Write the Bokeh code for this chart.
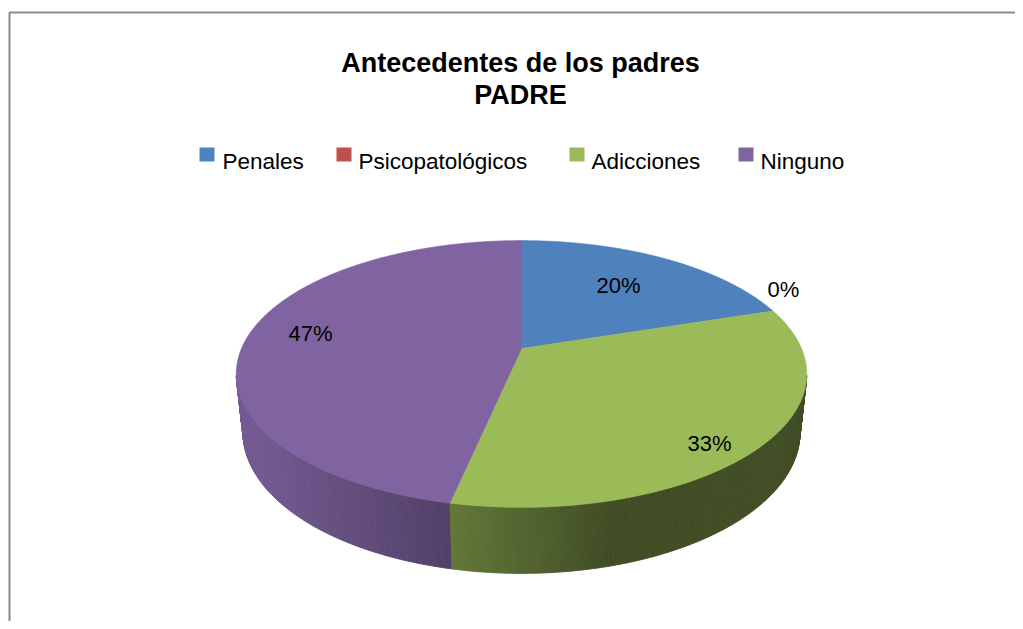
import numpy as np
from bokeh.plotting import figure
from bokeh.models import Range1d
from bokeh.core.properties import value
from bokeh.embed import file_html
from bokeh.resources import INLINE

# ---------------- data ----------------
categories = ["Penales", "Psicopatológicos", "Adicciones", "Ninguno"]
counts = [3, 0, 5, 7]
pct_labels = ["20%", "0%", "33%", "47%"]
title_lines = ["Antecedentes de los padres", "PADRE"]

# ---------------- styles / layout ----------------
colors = ["#4F81BD", "#C0504D", "#9BBB59", "#8064A2"]
FONT = "Liberation Sans"
W, H = 1015, 621
X0, Y0 = 0, 0                      # data coords equal picture pixels
CX, CY = 521.0, 348.0              # projected pie centre
SCALE = 280.0
SIN_A, COS_A = 0.459, 0.888        # view elevation
DIST = COS_A / 0.191               # perspective distance
DEPTH = 0.236                      # pie thickness (relative to radius)
LIGHT = np.deg2rad(255.0)

legend_square_x = [199, 336, 569, 738]
legend_text_x = [222, 358, 591, 760]
legend_y = 154
label_pos = [(618, 285), (783, 289), (709, 443), (310, 333)]  # (centre x, baseline)


def proj(phi, r=1.0, w=0.0):
    u = r * np.sin(phi)
    v = r * np.cos(phi)
    Y = v * SIN_A + w * COS_A
    Z = v * COS_A - w * SIN_A
    f = 1.0 / (1.0 + Z / DIST)
    return CX + SCALE * u * f, CY - SCALE * Y * f


def shade(hex_color, k):
    h = hex_color.lstrip("#")
    rgb = [int(h[i:i + 2], 16) for i in (0, 2, 4)]
    return "#%02x%02x%02x" % tuple(max(0, min(255, int(round(c * k)))) for c in rgb)


p = figure(width=W, height=H, x_range=Range1d(X0, X0 + W), y_range=Range1d(Y0 + H, Y0),
           output_backend="svg", toolbar_location=None, min_border=0)
p.axis.visible = False
p.grid.visible = False
p.outline_line_color = None
p.background_fill_color = "white"
p.border_fill_color = "white"

# chart-area border (top and left visible)
p.line(x=[9, 9, X0 + W + 20], y=[Y0 + H + 20, 12, 12], line_color="#8a8a8a", line_width=2)

total = float(sum(counts))
bounds = np.concatenate([[0.0], np.cumsum(counts) / total]) * 2 * np.pi

# ---------- sides (front facing part), with gradient shading ----------
side_xs, side_ys, side_cols, side_depth = [], [], [], []
for i, c in enumerate(counts):
    if c == 0:
        continue
    a0, a1 = bounds[i], bounds[i + 1]
    n = max(2, int((a1 - a0) / (2 * np.pi) * 720))
    grid = np.linspace(a0, a1, n + 1)
    for j in range(n):
        t0, t1 = grid[j], grid[j + 1]
        tm = 0.5 * (t0 + t1)
        if np.cos(tm) > -0.2:
            continue
        xa, ya = proj(t0)
        xb, yb = proj(t1)
        xc, yc = proj(t1, w=-DEPTH)
        xd, yd = proj(t0, w=-DEPTH)
        side_xs.append([xa, xb, xc, xd])
        side_ys.append([ya, yb, yc, yd])
        k = 0.41 + 0.5 * max(0.0, np.cos(tm - LIGHT))
        side_cols.append(shade(colors[i], k))
        side_depth.append(np.cos(tm))
order = np.argsort(-np.array(side_depth))
p.patches(xs=[side_xs[o] for o in order], ys=[side_ys[o] for o in order],
          fill_color=[side_cols[o] for o in order], line_color=[side_cols[o] for o in order],
          line_width=0.8)

# ---------- top faces ----------
top_xs, top_ys, top_cols = [], [], []
for i, c in enumerate(counts):
    if c == 0:
        continue
    a0, a1 = bounds[i], bounds[i + 1]
    t = np.linspace(a0, a1, 240)
    xs, ys = proj(t)
    top_xs.append([CX] + list(xs))
    top_ys.append([CY] + list(ys))
    top_cols.append(colors[i])
p.patches(xs=top_xs, ys=top_ys, fill_color=top_cols, line_color=top_cols, line_width=0.6)

# ---------- data labels ----------
p.text(x=[lp[0] for lp in label_pos], y=[lp[1] for lp in label_pos], text=pct_labels,
       text_font=value(FONT), text_font_size="22px", text_color="black",
       text_align="center", text_baseline="alphabetic")

# ---------- title ----------
p.text(x=[520, 520], y=[62, 94], text=title_lines, text_font=value(FONT),
       text_font_size="27px", text_font_style="bold", text_color="black",
       text_align="center", text_baseline="alphabetic")

# ---------- legend ----------
p.quad(left=legend_square_x, right=[x + 15 for x in legend_square_x],
       top=[legend_y - 7] * 4, bottom=[legend_y + 7] * 4,
       fill_color=colors, line_color=None)
p.text(x=legend_text_x, y=[161] * 4, text=categories, text_font=value(FONT),
       text_font_size="22.5px", text_color="black", text_align="left",
       text_baseline="alphabetic")

open("out.html", "w").write(file_html(p, INLINE))
